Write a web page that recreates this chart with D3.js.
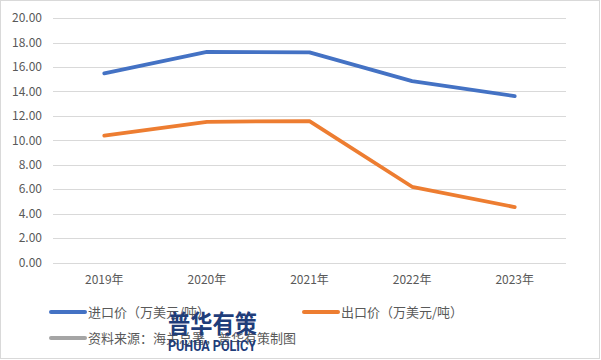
<!DOCTYPE html>
<html>
<head>
<meta charset="utf-8">
<script src="https://cdn.jsdelivr.net/npm/d3@7"></script>
<style>
  body { margin: 0; background: #fff; }
  svg { display: block; font-family: "Microsoft YaHei", "Noto Sans CJK SC", sans-serif; }
</style>
</head>
<body>
<svg id="chart" width="601" height="360"></svg>
<script>
// data
var years = ["2019年", "2020年", "2021年", "2022年", "2023年"];
var importPrice = [15.48, 17.25, 17.2, 14.85, 13.62];
var exportPrice = [10.38, 11.52, 11.58, 6.2, 4.54];
var yTicks = [0, 2, 4, 6, 8, 10, 12, 14, 16, 18, 20];
var seriesNames = ["进口价（万美元/吨）", "出口价（万美元/吨）"];
var seriesColors = ["#4472c4", "#ed7d31"];
var sourceNote = "资料来源：海关总署，普华有策制图";

var svg = d3.select("#chart");

// outer frame
svg.append("rect")
    .attr("x", 0.5).attr("y", 0.5)
    .attr("width", 599).attr("height", 358)
    .attr("fill", "#fff")
    .attr("stroke", "#d9d9d9");

var x = d3.scaleBand().domain(years).range([53, 566]).padding(0);
var y = d3.scaleLinear().domain([0, 20]).range([262.5, 18.2]);

// grid lines
svg.append("g")
    .selectAll("line")
    .data(yTicks)
    .enter().append("line")
        .attr("x1", 53).attr("x2", 566)
        .attr("y1", d => Math.round(y(d)) + 0.5)
        .attr("y2", d => Math.round(y(d)) + 0.5)
        .attr("stroke", "#d9d9d9")
        .attr("stroke-width", 1);

// y labels
svg.append("g")
    .selectAll("text")
    .data(yTicks)
    .enter().append("text")
        .attr("x", 42)
        .attr("y", d => y(d))
        .attr("dy", "0.35em")
        .attr("text-anchor", "end")
        .attr("font-size", "12px")
        .attr("fill", "#595959")
        .text(d => d3.format(".2f")(d));

// x labels
svg.append("g")
    .selectAll("text")
    .data(years)
    .enter().append("text")
        .attr("x", d => x(d) + x.bandwidth() / 2)
        .attr("y", 280)
        .attr("dy", "0.35em")
        .attr("text-anchor", "middle")
        .attr("font-size", "12px")
        .attr("fill", "#595959")
        .text(d => d);

var line = d3.line()
    .x((d, i) => x(years[i]) + x.bandwidth() / 2)
    .y(d => y(d));

[importPrice, exportPrice].forEach(function(vals, k) {
    svg.append("path")
        .datum(vals)
        .attr("d", line)
        .attr("fill", "none")
        .attr("stroke", seriesColors[k])
        .attr("stroke-width", 3.8)
        .attr("stroke-linecap", "round")
        .attr("stroke-linejoin", "round");
});

// legend
var legend = [
    { name: seriesNames[0], color: seriesColors[0], lx: 51, ly: 312 },
    { name: seriesNames[1], color: seriesColors[1], lx: 304, ly: 312 },
    { name: sourceNote, color: "#a5a5a5", lx: 51, ly: 338 }
];

var lg = svg.append("g")
    .selectAll("g")
    .data(legend)
    .enter().append("g");

lg.append("line")
    .attr("x1", d => d.lx).attr("x2", d => d.lx + 34)
    .attr("y1", d => d.ly).attr("y2", d => d.ly)
    .attr("stroke", d => d.color)
    .attr("stroke-width", 4)
    .attr("stroke-linecap", "round");

lg.append("text")
    .attr("x", d => d.lx + 37)
    .attr("y", d => d.ly)
    .attr("dy", "0.35em")
    .attr("font-size", "13px")
    .attr("fill", "#595959")
    .text(d => d.name);

// watermark
var wm = svg.append("g").attr("fill", "#1f3d7a");
wm.append("text")
    .attr("x", 168).attr("y", 333)
    .attr("font-size", "25px")
    .attr("font-weight", "bold")
    .attr("font-family", "Noto Sans CJK SC")
    .attr("textLength", 89)
    .attr("lengthAdjust", "spacingAndGlyphs")
    .text("普华有策");
wm.append("text")
    .attr("x", 168).attr("y", 351)
    .attr("font-size", "14px")
    .attr("font-weight", "bold")
    .attr("font-family", "Roboto")
    .attr("textLength", 88)
    .attr("lengthAdjust", "spacingAndGlyphs")
    .text("PUHUA POLICY");
</script>
</body>
</html>
